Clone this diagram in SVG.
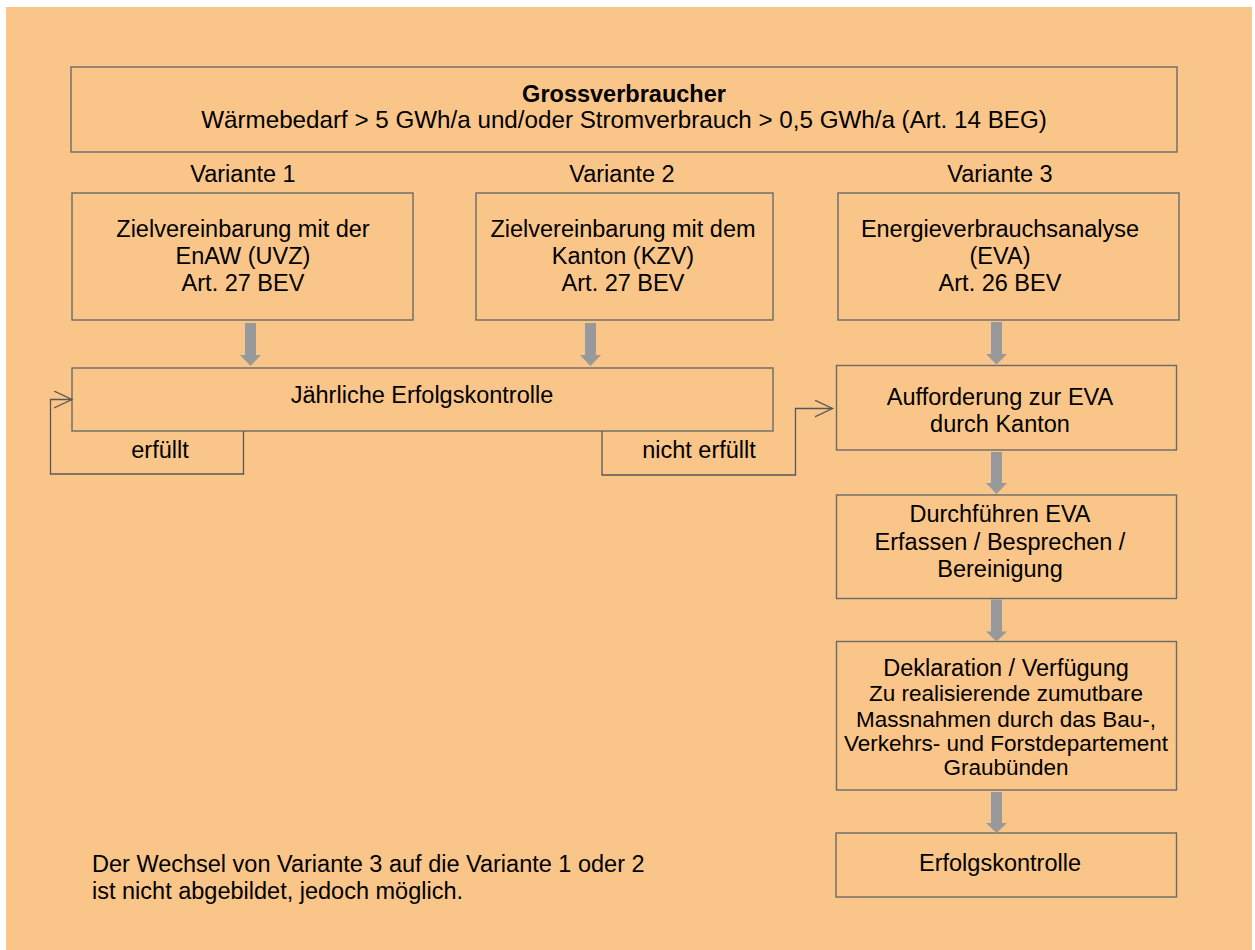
<svg xmlns="http://www.w3.org/2000/svg" width="1255" height="950" viewBox="0 0 1255 950">
<style>
.bg{fill:#FAC589}
.box{fill:none;stroke:#6a6a6a;stroke-width:1.4}
.t{font-family:"Liberation Sans",Arial,sans-serif;font-size:23.5px;fill:#000;text-anchor:middle}
.s{font-size:22.5px}
.w{font-size:24.2px}
.b{font-weight:bold}
.l{text-anchor:start}
.blk{fill:#98999b}
.con{fill:none;stroke:#575757;stroke-width:1.3}
</style>
<defs>
<marker id="open" markerUnits="userSpaceOnUse" markerWidth="22" markerHeight="22" refX="18" refY="8.5" orient="auto">
<path d="M0,0 L18,8.5 L0,17" fill="none" stroke="#575757" stroke-width="1.3"/>
</marker>
</defs>
<rect class="bg" x="6" y="7" width="1246" height="943"/>

<g id="grossverbraucher">
<rect class="box" x="71" y="67" width="1106" height="85"/>
<text class="t b" x="624" y="102">Grossverbraucher</text>
<text class="t w" x="624" y="128">Wärmebedarf &gt; 5 GWh/a und/oder Stromverbrauch &gt; 0,5 GWh/a (Art. 14 BEG)</text>
</g>

<g id="labels">
<text class="t" x="243" y="182">Variante 1</text>
<text class="t" x="622" y="182">Variante 2</text>
<text class="t" x="1000" y="182">Variante 3</text>
</g>

<g id="variante1">
<rect class="box" x="72" y="193" width="341" height="127"/>
<text class="t" x="243" y="237">Zielvereinbarung mit der</text>
<text class="t" x="243" y="264">EnAW (UVZ)</text>
<text class="t" x="243" y="291">Art. 27 BEV</text>
</g>

<g id="variante2">
<rect class="box" x="476" y="193" width="297" height="127"/>
<text class="t" x="623" y="237">Zielvereinbarung mit dem</text>
<text class="t" x="623" y="264">Kanton (KZV)</text>
<text class="t" x="623" y="291">Art. 27 BEV</text>
</g>

<g id="variante3">
<rect class="box" x="838" y="193" width="341" height="127"/>
<text class="t" x="1000" y="237">Energieverbrauchsanalyse</text>
<text class="t" x="1000" y="264">(EVA)</text>
<text class="t" x="1000" y="291">Art. 26 BEV</text>
</g>

<g id="jaehrliche">
<rect class="box" x="72" y="368" width="701" height="63"/>
<text class="t" x="422" y="403">Jährliche Erfolgskontrolle</text>
</g>

<g id="aufforderung">
<rect class="box" x="836.5" y="365.5" width="340" height="84.5"/>
<text class="t" x="1000" y="405">Aufforderung zur EVA</text>
<text class="t" x="1000" y="432">durch Kanton</text>
</g>

<g id="durchfuehren">
<rect class="box" x="836.5" y="495" width="340" height="103.5"/>
<text class="t" x="1000" y="522">Durchführen EVA</text>
<text class="t" x="1000" y="549.5">Erfassen / Besprechen /</text>
<text class="t" x="1000" y="577">Bereinigung</text>
</g>

<g id="deklaration">
<rect class="box" x="836.5" y="641.5" width="340" height="148.5"/>
<text class="t" x="1006" y="676">Deklaration / Verfügung</text>
<text class="t s" x="1006" y="701">Zu realisierende zumutbare</text>
<text class="t s" x="1006" y="727">Massnahmen durch das Bau-,</text>
<text class="t s" x="1006" y="751">Verkehrs- und Forstdepartement</text>
<text class="t s" x="1006" y="775">Graubünden</text>
</g>

<g id="erfolgskontrolle">
<rect class="box" x="836" y="833" width="340.5" height="64"/>
<text class="t" x="1000" y="871">Erfolgskontrolle</text>
</g>

<g id="note">
<text class="t l" x="92" y="872">Der Wechsel von Variante 3 auf die Variante 1 oder 2</text>
<text class="t l" x="92" y="899">ist nicht abgebildet, jedoch möglich.</text>
</g>

<g id="connectors">
<path class="blk" d="M245,323 H256 V355 H261 L250.5,366 L240,355 H245 Z"/>
<path class="blk" d="M585,323 H596 V355 H601 L590.5,366 L580,355 H585 Z"/>
<path class="blk" d="M991,322 H1002 V354 H1007 L996.5,364.5 L986,354 H991 Z"/>
<path class="blk" d="M991,452 H1002 V483 H1007 L996.5,494 L986,483 H991 Z"/>
<path class="blk" d="M991,599.5 H1002 V631.5 H1007 L996.5,641.5 L986,631.5 H991 Z"/>
<path class="blk" d="M991,792 H1002 V823 H1007 L996.5,833 L986,823 H991 Z"/>
<polyline class="con" points="243.5,431 243.5,474 50.5,474 50.5,399.5 72,399.5" marker-end="url(#open)"/>
<polyline class="con" points="602,431 602,475 795.5,475 795.5,408.5 832.5,408.5" marker-end="url(#open)"/>
<text class="t" x="160" y="458">erfüllt</text>
<text class="t" x="699" y="458">nicht erfüllt</text>
</g>
</svg>
